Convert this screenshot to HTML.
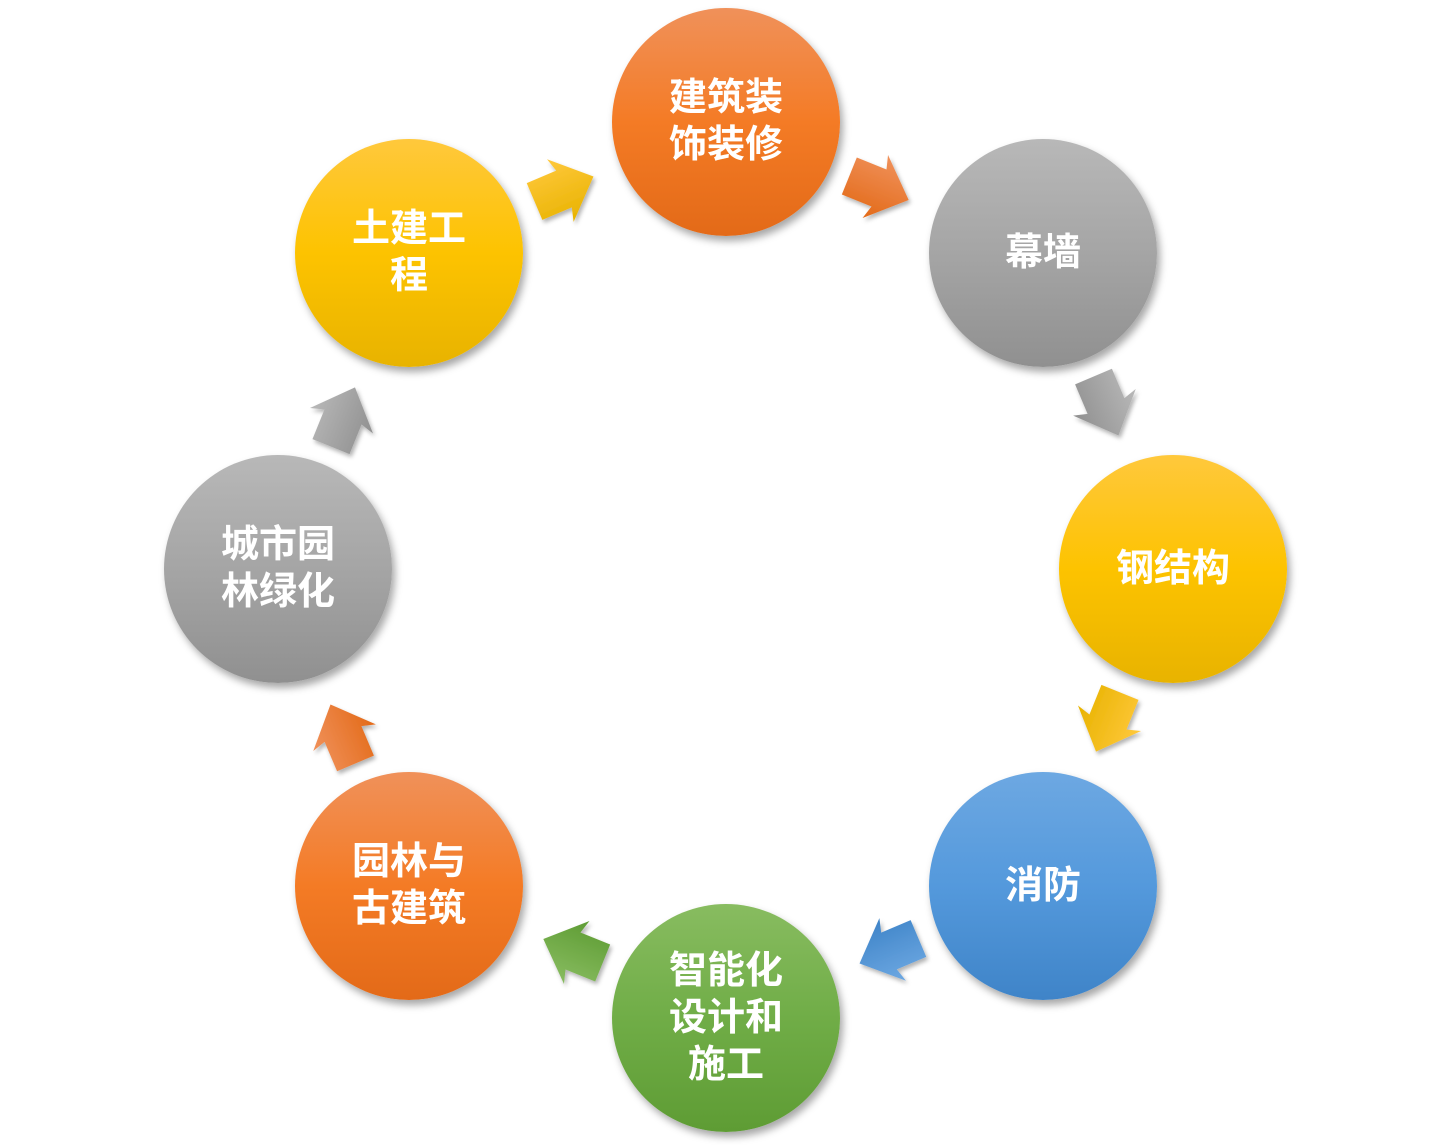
<!DOCTYPE html>
<html><head><meta charset="utf-8"><style>
html,body{margin:0;padding:0;background:#fff;}
body{width:1452px;height:1145px;position:relative;overflow:hidden;}
.c{position:absolute;width:228px;height:228px;border-radius:50%;display:flex;align-items:center;justify-content:center;text-align:center;color:#fff;font-family:"Liberation Sans","Noto Sans CJK SC",sans-serif;font-weight:bold;font-size:38px;line-height:47px;box-shadow:3px 5px 8px rgba(0,0,0,0.35);}
.o{background:linear-gradient(#f0915a,#f47b25 50%,#e36a18);}
.g{background:linear-gradient(#b8b8b8,#a5a5a5 50%,#909090);}
.y{background:linear-gradient(#ffc83c,#fdc300 50%,#e8b300);}
.b{background:linear-gradient(#6da8e2,#5499dc 50%,#3f84c8);}
.gr{background:linear-gradient(#88bc60,#70ad47 50%,#5e9c34);}
svg{position:absolute;left:0;top:0;}
</style></head><body>
<svg width="1452" height="1145">
<defs>
<linearGradient id="ao" x1="0" y1="0" x2="0" y2="1"><stop offset="0" stop-color="#f0915a"/><stop offset="1" stop-color="#e36a18"/></linearGradient>
<linearGradient id="ag" x1="0" y1="0" x2="0" y2="1"><stop offset="0" stop-color="#b8b8b8"/><stop offset="1" stop-color="#909090"/></linearGradient>
<linearGradient id="ay" x1="0" y1="0" x2="0" y2="1"><stop offset="0" stop-color="#ffc83c"/><stop offset="1" stop-color="#e8b300"/></linearGradient>
<linearGradient id="ab" x1="0" y1="0" x2="0" y2="1"><stop offset="0" stop-color="#6da8e2"/><stop offset="1" stop-color="#3f84c8"/></linearGradient>
<linearGradient id="agr" x1="0" y1="0" x2="0" y2="1"><stop offset="0" stop-color="#88bc60"/><stop offset="1" stop-color="#5e9c34"/></linearGradient>
<filter id="sh"><feDropShadow dx="2" dy="3" stdDeviation="2" flood-opacity="0.3"/></filter>
<polygon id="ar" points="-32,-20 0,-20 -4,-34 32,0 -4,34 0,20 -32,20"/>
</defs>
<g filter="url(#sh)">
<use href="#ar" fill="url(#ay)" transform="translate(564,189) rotate(-23)"/>
<use href="#ar" fill="url(#ao)" transform="translate(879,188) rotate(22)"/>
<use href="#ar" fill="url(#ag)" transform="translate(1106,406) rotate(67)"/>
<use href="#ar" fill="url(#ay)" transform="translate(1108,722) rotate(112)"/>
<use href="#ar" fill="url(#ab)" transform="translate(889,951) rotate(157)"/>
<use href="#ar" fill="url(#agr)" transform="translate(573,951) rotate(202)"/>
<use href="#ar" fill="url(#ao)" transform="translate(343,734) rotate(247)"/>
<use href="#ar" fill="url(#ag)" transform="translate(343,417) rotate(292)"/>
</g>
</svg>
<div class="c o" style="left:612px;top:8px">建筑装<br>饰装修</div>
<div class="c g" style="left:929px;top:139px">幕墙</div>
<div class="c y" style="left:1059px;top:455px">钢结构</div>
<div class="c b" style="left:929px;top:772px">消防</div>
<div class="c gr" style="left:612px;top:904px">智能化<br>设计和<br>施工</div>
<div class="c o" style="left:295px;top:772px">园林与<br>古建筑</div>
<div class="c g" style="left:164px;top:455px">城市园<br>林绿化</div>
<div class="c y" style="left:295px;top:139px">土建工<br>程</div>
</body></html>
